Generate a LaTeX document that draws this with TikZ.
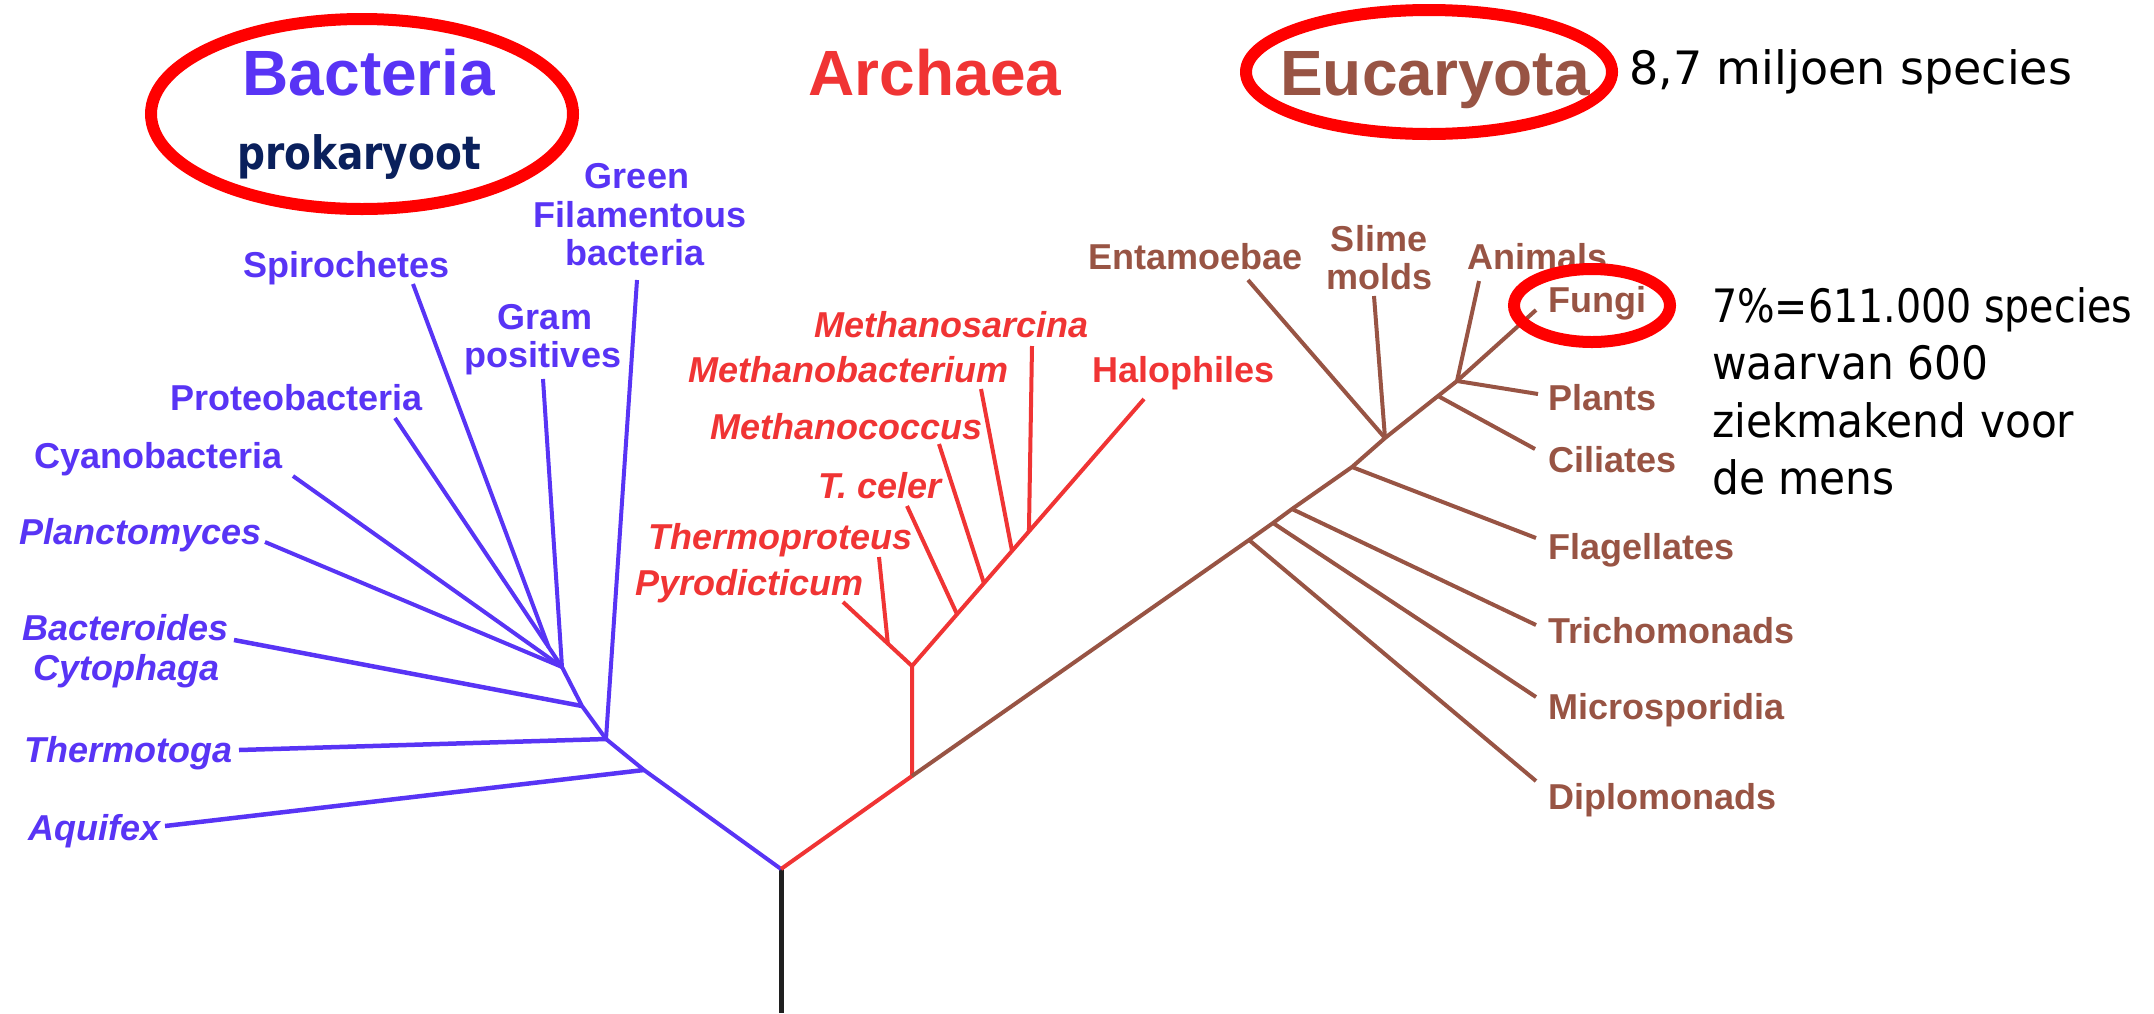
\documentclass[tikz,border=0pt]{standalone}
\usepackage{fontspec}
\setmainfont{Liberation Sans}
\newfontfamily\tahfont[FakeStretch=0.92]{DejaVu Sans}
\newfontfamily\tahnarrow[FakeStretch=0.86]{DejaVu Sans}
\newfontfamily\tahwide{DejaVu Sans}
\newfontfamily\prokfont[FakeStretch=0.85]{DejaVu Sans}
\usetikzlibrary{calc}
\definecolor{bact}{RGB}{88,52,245}
\definecolor{arch}{RGB}{240,52,52}
\definecolor{euk}{RGB}{152,84,68}
\definecolor{navy}{RGB}{10,32,92}
\definecolor{ringred}{RGB}{255,0,0}
\definecolor{stemc}{RGB}{32,32,32}
\begin{document}
\begin{tikzpicture}[x=1pt,y=-1pt,
  bline/.style={draw=bact,line width=4pt,line join=round},
  rline/.style={draw=arch,line width=4pt,line join=round},
  eline/.style={draw=euk,line width=4pt,line join=round},
  stemline/.style={draw=stemc,line width=5pt},
  ring/.style={draw=ringred,line width=12pt},
  lab/.style={inner sep=0pt,font=\fontsize{36}{40}\selectfont\bfseries},
  labi/.style={inner sep=0pt,font=\fontsize{36}{40}\selectfont\bfseries\itshape},
  ttl/.style={inner sep=0pt,anchor=base,font=\fontsize{64}{70}\selectfont\bfseries},
  note/.style={inner sep=0pt,anchor=base west,font=\tahfont\fontsize{46}{50}\selectfont}]
\useasboundingbox (0,0) rectangle (2154,1013);

% ---------- tree coordinates ----------
\coordinate (root) at (781,869);
\coordinate (stem) at (781,1013);
% bacteria
\coordinate (bA) at (644,770);
\coordinate (bT) at (606,739);
\coordinate (bB) at (582,706);
\coordinate (bF) at (562,667);
\coordinate (eGreen) at (637,280);
\coordinate (eGram) at (543,379);
\coordinate (eProt) at (395,418);
\coordinate (eSpi) at (413,284);
\coordinate (jSpi) at ($(eProt)!0.92!(bF)$);
\coordinate (eCyan) at (293,476);
\coordinate (ePlan) at (265,542);
\coordinate (eBact) at (234,640);
\coordinate (eTherm) at (239,750);
\coordinate (eAqu) at (165,826);
% archaea
\coordinate (r1) at (912,776);
\coordinate (r2) at (912,666);
\coordinate (eHalo) at (1144,399);
\coordinate (rj1) at ($(r2)!0.194!(eHalo)$);
\coordinate (rj2) at ($(r2)!0.310!(eHalo)$);
\coordinate (rj3) at ($(r2)!0.431!(eHalo)$);
\coordinate (rj4) at ($(r2)!0.504!(eHalo)$);
\coordinate (eSarc) at (1032,346);
\coordinate (eMbac) at (981,389);
\coordinate (eMcoc) at (939,444);
\coordinate (eTcel) at (907,506);
\coordinate (eTpro) at (879,557);
\coordinate (ePyro) at (843,602);
\coordinate (rp) at ($(r2)!0.35!(ePyro)$);
% eucaryota
\coordinate (E1) at (1249,540);
\coordinate (E2) at (1273,523);
\coordinate (E3) at (1292,509);
\coordinate (E4) at (1352,467);
\coordinate (E5) at (1385,438);
\coordinate (E6) at (1438,396);
\coordinate (E7) at (1457,381);
\coordinate (E8) at (1536,310);
\coordinate (eDip) at (1536,781);
\coordinate (eMic) at (1536,697);
\coordinate (eTri) at (1536,625);
\coordinate (eFla) at (1536,538);
\coordinate (eCil) at (1535,449);
\coordinate (ePla) at (1538,394);
\coordinate (eAni) at (1479,281);
\coordinate (eEnt) at (1248,280);
\coordinate (eSli) at (1374,296);

% ---------- branches ----------
\draw[stemline] (root) -- (stem);
% bacteria
\draw[bline] (root) -- (bA) -- (bT) -- (bB) -- (bF);
\draw[bline] (bF) -- (eGram);
\draw[bline] (bF) -- (eProt);
\draw[bline] (jSpi) -- (eSpi);
\draw[bline] (bF) -- (eCyan);
\draw[bline] (bF) -- (ePlan);
\draw[bline] (bT) -- (eGreen);
\draw[bline,line width=4.5pt] (bB) -- (eBact);
\draw[bline,line width=4.5pt] (bT) -- (eTherm);
\draw[bline,line width=4.5pt] (bA) -- (eAqu);
% archaea
\draw[rline] (root) -- (r1) -- (r2);
\draw[rline] (r2) -- (eHalo);
\draw[rline] (r2) -- (ePyro);
\draw[rline] (rp) -- (eTpro);
\draw[rline] (rj1) -- (eTcel);
\draw[rline] (rj2) -- (eMcoc);
\draw[rline] (rj3) -- (eMbac);
\draw[rline] (rj4) -- (eSarc);
% eucaryota
\draw[eline] (r1) -- (E1) -- (E2) -- (E3) -- (E4) -- (E5) -- (E6) -- (E7) -- (E8);
\draw[eline] (E1) -- (eDip);
\draw[eline] (E2) -- (eMic);
\draw[eline] (E3) -- (eTri);
\draw[eline] (E4) -- (eFla);
\draw[eline] (E5) -- (eEnt);
\draw[eline] (E5) -- (eSli);
\draw[eline] (E6) -- (eCil);
\draw[eline] (E7) -- (ePla);
\draw[eline] (E7) -- (eAni);

% ---------- titles ----------
\node[ttl,text=bact] (tBac) at (369,95) {Bacteria};
\node[ttl,text=arch] (tArc) at (935,95) {Archaea};
\node[ttl,text=euk] (tEuk) at (1435,95) {Eucaryota};
\node[inner sep=0pt,anchor=base,text=navy,font=\prokfont\bfseries\fontsize{46}{50}\selectfont] (prok) at (359,169) {prokaryoot};

% ---------- bacteria labels ----------
\begin{scope}[every node/.append style={text=bact}]
\node[lab,anchor=base west] (lSpi) at (243,277) {Spirochetes};
\node[lab,anchor=base] (lGreen1) at (637,188) {Green};
\node[lab,anchor=base] (lGreen2) at (640,227) {Filamentous};
\node[lab,anchor=base] (lGreen3) at (635,265) {bacteria};
\node[lab,anchor=base] (lGram1) at (545,329) {Gram};
\node[lab,anchor=base] (lGram2) at (543,367) {positives};
\node[lab,anchor=base west] (lProt) at (170,410) {Proteobacteria};
\node[lab,anchor=base west] (lCyan) at (34,468) {Cyanobacteria};
\node[labi,anchor=base west] (lPlan) at (19,544) {Planctomyces};
\node[labi,anchor=base west] (lBact1) at (22,640) {Bacteroides};
\node[labi,anchor=base west] (lBact2) at (33,680) {Cytophaga};
\node[labi,anchor=base west] (lTherm) at (24,762) {Thermotoga};
\node[labi,anchor=base west] (lAqu) at (28,840) {Aquifex};
\end{scope}

% ---------- archaea labels ----------
\begin{scope}[every node/.append style={text=arch}]
\node[labi,anchor=base west] (lSarc) at (814,337) {Methanosarcina};
\node[labi,anchor=base west] (lMbac) at (688,382) {Methanobacterium};
\node[labi,anchor=base west] (lMcoc) at (710,439) {Methanococcus};
\node[labi,anchor=base west] (lTcel) at (818,498) {T. celer};
\node[labi,anchor=base west] (lTpro) at (648,549) {Thermoproteus};
\node[labi,anchor=base west] (lPyro) at (635,595) {Pyrodicticum};
\node[lab,anchor=base west] (lHalo) at (1092,382) {Halophiles};
\end{scope}

% ---------- eucaryota labels ----------
\begin{scope}[every node/.append style={text=euk}]
\node[lab,anchor=base west] (lEnt) at (1088,269) {Entamoebae};
\node[lab,anchor=base] (lSli1) at (1379,251) {Slime};
\node[lab,anchor=base] (lSli2) at (1379,289) {molds};
\node[lab,anchor=base west] (lAni) at (1467,269) {Animals};
\node[lab,anchor=base west] (lFun) at (1548,312) {Fungi};
\node[lab,anchor=base west] (lPla) at (1548,410) {Plants};
\node[lab,anchor=base west] (lCil) at (1548,472) {Ciliates};
\node[lab,anchor=base west] (lFla) at (1548,559) {Flagellates};
\node[lab,anchor=base west] (lTri) at (1548,643) {Trichomonads};
\node[lab,anchor=base west] (lMic) at (1548,719) {Microsporidia};
\node[lab,anchor=base west] (lDip) at (1548,809) {Diplomonads};
\end{scope}

% ---------- notes ----------
\node[note,font=\tahwide\fontsize{46}{50}\selectfont] (n1) at (1629,84) {8,7 miljoen species};
\node[note,font=\tahnarrow\fontsize{46}{50}\selectfont] (n2) at (1712,322) {7\%=611.000 species};
\node[note] (n3) at (1712,379) {waarvan 600};
\node[note] (n4) at (1712,437) {ziekmakend voor};
\node[note] (n5) at (1712,494) {de mens};

% ---------- highlight rings ----------
\draw[ring] (362,114) ellipse [x radius=211, y radius=95];
\draw[ring] (1429,72) ellipse [x radius=183, y radius=62];
\draw[ring] (1592,305.5) ellipse [x radius=78, y radius=36.5];
\end{tikzpicture}
\end{document}
